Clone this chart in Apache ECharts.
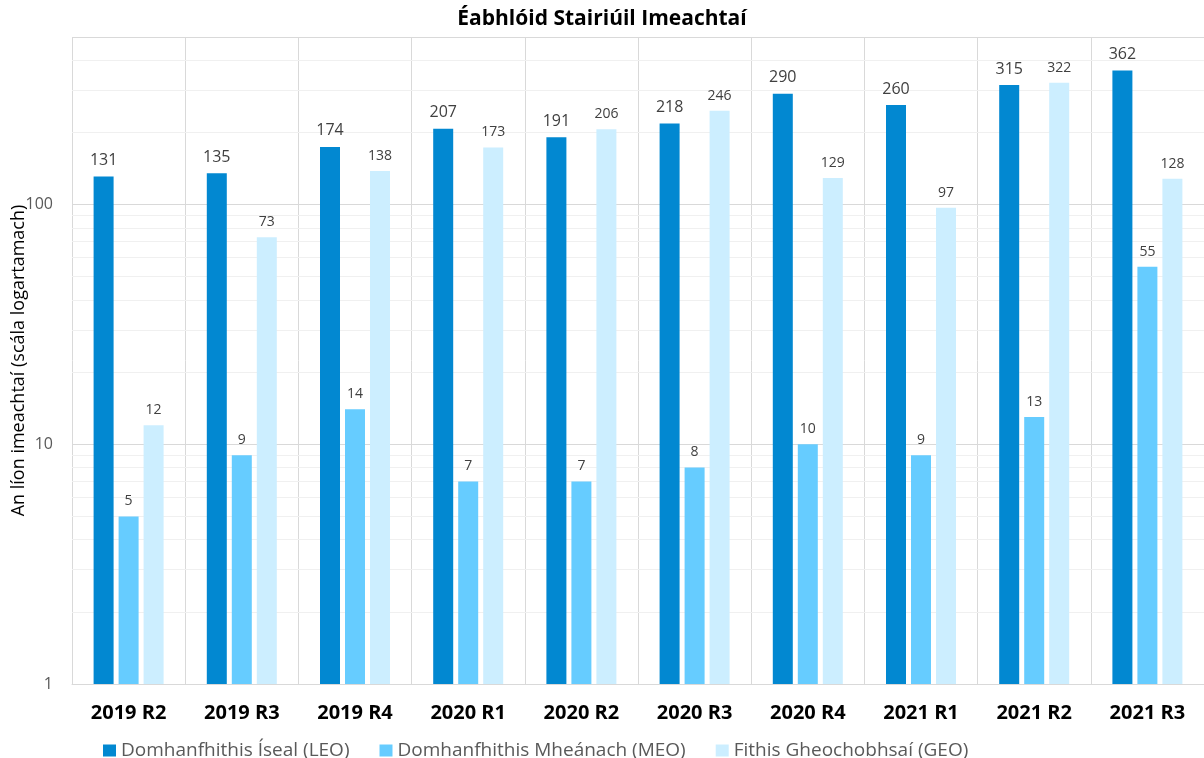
<!DOCTYPE html>
<html><head><meta charset="utf-8">
<script src="https://cdn.jsdelivr.net/npm/echarts@6/dist/echarts.min.js"></script>
<style>html,body{margin:0;padding:0;background:#fff}#c{width:1204px;height:758px}</style>
</head><body><div id="c"></div>
<script>
const categories = ['2019 R2','2019 R3','2019 R4','2020 R1','2020 R2','2020 R3','2020 R4','2021 R1','2021 R2','2021 R3'];
const seriesNames = ['Domhanfhithis Íseal (LEO)','Domhanfhithis Mheánach (MEO)','Fithis Gheochobhsaí (GEO)'];
const leo = [131,135,174,207,191,218,290,260,315,362];
const meo = [5,9,14,7,7,8,10,9,13,55];
const geo = [12,73,138,173,206,246,129,97,322,128];
const minorGrid = [2,3,4,5,6,7,8,9,20,30,40,50,60,70,80,90,200,300,400];
const FONT = '"Open Sans", "Noto Sans", sans-serif';

const chart = echarts.init(document.getElementById('c'));
const colors = ['#0288D1','#66CCFF','#CCEEFF'];
function mkSeries(name, data, idx, fs) {
  const s = {
    name, type: 'bar', data, barWidth: 20, barGap: '25%',
    itemStyle: { color: colors[idx] },
    label: { show: true, position: 'top', distance: 8, color: '#404040', fontSize: fs, fontFamily: FONT },
    z: 3
  };
  if (idx === 0) {
    s.markLine = {
      silent: true, symbol: ['none','none'], label: { show: false },
      lineStyle: { color: '#f0f0f0', type: 'solid', width: 1 },
      data: minorGrid.map(v => ({ yAxis: v })),
      z: 1, animation: false
    };
  }
  return s;
}
chart.setOption({
  animation: false,
  textStyle: { fontFamily: FONT },
  title: { text: 'Éabhlóid Stairiúil Imeachtaí', left: 'center', top: 4,
    textStyle: { fontSize: 21, fontWeight: 'bold', color: '#000', fontFamily: FONT } },
  legend: { top: 736, left: 98, itemWidth: 13, itemHeight: 12, itemGap: 30, icon: 'rect',
    textStyle: { fontSize: 19, color: '#595959', fontFamily: FONT } },
  grid: { left: 72, right: 0, top: 37, bottom: 74, containLabel: false, outerBoundsMode: 'none' },
  xAxis: { type: 'category', data: categories,
    axisLine: { lineStyle: { color: '#d9d9d9' } }, axisTick: { show: false },
    splitLine: { show: true, lineStyle: { color: '#d9d9d9' } },
    axisLabel: { fontSize: 20, fontWeight: 'bold', color: '#000', margin: 19, fontFamily: FONT } },
  yAxis: { type: 'log', logBase: 10, min: 1, max: 500,
    name: 'An líon imeachtaí (scála logartamach)', nameLocation: 'middle', nameGap: 44, nameMoveOverlap: false,
    nameTextStyle: { fontSize: 18, color: '#000', fontFamily: FONT },
    axisLine: { show: false }, axisTick: { show: false },
    splitLine: { lineStyle: { color: '#d9d9d9' } },
    axisLabel: { fontSize: 16, color: '#595959', margin: 19, showMaxLabel: false, fontFamily: FONT } },
  series: [mkSeries(seriesNames[0], leo, 0, 16), mkSeries(seriesNames[1], meo, 1, 14), mkSeries(seriesNames[2], geo, 2, 14)]
});
</script></body></html>
